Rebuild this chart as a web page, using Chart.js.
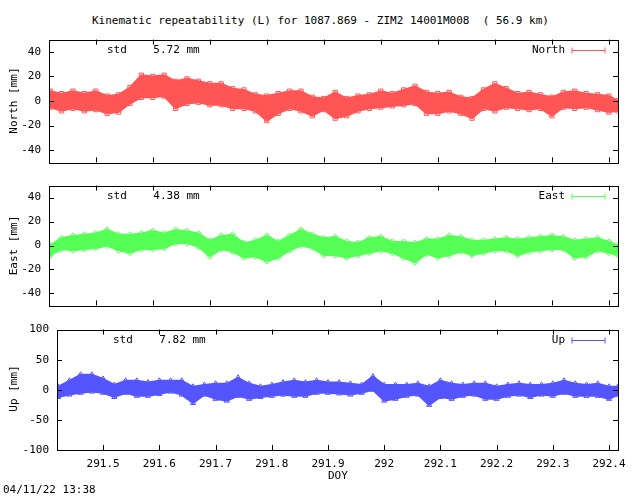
<!DOCTYPE html>
<html>
<head>
<meta charset="utf-8">
<script src="https://cdn.jsdelivr.net/npm/chart.js@4/dist/chart.umd.min.js"></script>
<style>
  body { margin: 0; background: #fff; width: 640px; height: 496px; position: relative; overflow: hidden;
         font-family: "DejaVu Sans Mono", monospace; font-size: 11px; color: #000; }
  canvas { position: absolute; left: 0; }
  .txt { position: absolute; white-space: pre; }
  .rot { position: absolute; transform: rotate(-90deg); transform-origin: center; white-space: pre; }
</style>
</head>
<body>
<div class="txt" style="left:92px;top:14px;">Kinematic repeatability (L) for 1087.869 - ZIM2 14001M008  ( 56.9 km)</div>
<canvas id="cNorth" width="640" height="152" style="top:25px"></canvas>
<canvas id="cEast" width="640" height="149" style="top:171px"></canvas>
<canvas id="cUp" width="640" height="165" style="top:315px"></canvas>
<div class="rot" style="left:-22px;top:94px;width:70px;text-align:center">North [mm]</div>
<div class="rot" style="left:-22px;top:239px;width:70px;text-align:center">East [mm]</div>
<div class="rot" style="left:-22px;top:382px;width:70px;text-align:center">Up [mm]</div>
<div class="txt" style="left:328px;top:469px;">DOY</div>
<div class="txt" style="left:3px;top:483px;">04/11/22 13:38</div>
<script>
// sample epochs (DOY) for the envelope
const doy = [291.418, 291.42, 291.44, 291.46, 291.48, 291.50, 291.52, 291.54, 291.56, 291.58, 291.60,
  291.62, 291.64, 291.66, 291.68, 291.70, 291.72, 291.74, 291.76, 291.78, 291.80,
  291.82, 291.84, 291.86, 291.88, 291.90, 291.92, 291.94, 291.96, 291.98, 292.00,
  292.02, 292.04, 292.06, 292.08, 292.10, 292.12, 292.14, 292.16, 292.18, 292.20,
  292.22, 292.24, 292.26, 292.28, 292.30, 292.32, 292.34, 292.36, 292.38, 292.40, 292.416];

const northHi = [2, 8, 6, 8, 6, 8, 4, 5, 11, 21, 20, 21, 16, 18, 16, 14, 14, 10, 9, 5, 4,
  6, 8, 8, 3, 2, 7, 2, 4, 5, 8, 6, 9, 12, 7, 6, 7, 3, 2, 9, 14,
  10, 6, 7, 5, 3, 7, 8, 6, 5, 4, 0];
const northLo = [-4, -5, -8, -6, -8, -7, -10, -9, -2, 3, 3, 4, -6, -2, -1, -3, -3, -6, -6, -8, -16,
  -10, -6, -8, -12, -7, -14, -12, -8, -6, -5, -4, -3, -2, -10, -10, -8, -10, -14, -6, -8,
  -5, -6, -7, -6, -12, -5, -6, -5, -7, -9, -8];

const eastHi = [-2, 0, 6, 8, 9, 10, 13, 9, 9, 10, 12, 10, 13, 12, 10, 4, 8, 9, 2, 4, 8,
  3, 8, 13, 9, 6, 7, 3, 2, 6, 7, 3, 3, 2, 5, 5, 8, 7, 4, 4, 5,
  6, 5, 6, 7, 8, 7, 4, 5, 6, 3, 0];
const eastLo = [-9, -8, -3, -4, -3, -2, 0, -4, -6, -3, -3, -2, 2, 2, -1, -9, -3, -5, -10, -9, -13,
  -10, -4, 0, -2, -8, -8, -10, -8, -6, -4, -6, -10, -14, -7, -10, -8, -5, -8, -6, -4,
  -4, -8, -5, -4, -3, -3, -10, -9, -4, -6, -8];

const upHi = [0, 5, 15, 25, 25, 18, 8, 15, 15, 12, 15, 15, 15, 5, 8, 10, 10, 20, 10, 5, 8,
  12, 15, 12, 15, 12, 12, 10, 8, 22, 8, 8, 8, 10, 5, 15, 10, 8, 10, 10, 5,
  8, 10, 8, 8, 10, 15, 10, 8, 10, 5, 5];
const upLo = [-10, -12, -8, -5, -3, -5, -12, -5, -10, -10, -7, -3, -8, -22, -8, -15, -18, -10, -15, -12, -10,
  -8, -10, -10, -5, -5, -6, -8, -5, 0, -18, -15, -10, -8, -25, -12, -15, -10, -8, -15, -15,
  -10, -8, -12, -8, -10, -5, -10, -10, -10, -15, -8];

const xMin = 291.418;
const xMax = 292.416;
const xTicks = [291.5, 291.6, 291.7, 291.8, 291.9, 292, 292.1, 292.2, 292.3, 292.4];
const neTicks = [-40, -20, 0, 20, 40];
const upTicks = [-100, -50, 0, 50, 100];

const inwardTicks = {
  id: "inwardTicks",
  afterDraw(chart) {
    const { ctx, chartArea: a, scales } = chart;
    ctx.save();
    ctx.strokeStyle = "#000";
    ctx.lineWidth = 1;
    ctx.beginPath();
    xTicks.forEach((t) => {
      const px = Math.round(scales.x.getPixelForValue(t)) + 0.5;
      ctx.moveTo(px, a.top); ctx.lineTo(px, a.top + 5);
      ctx.moveTo(px, a.bottom); ctx.lineTo(px, a.bottom - 5);
    });
    scales.y.ticks.forEach((t) => {
      const py = Math.round(scales.y.getPixelForValue(t.value)) + 0.5;
      ctx.moveTo(a.left, py); ctx.lineTo(a.left + 5, py);
      ctx.moveTo(a.right, py); ctx.lineTo(a.right - 5, py);
    });
    ctx.stroke();
    ctx.strokeRect(Math.round(a.left) + 0.5, Math.round(a.top) + 0.5, Math.round(a.width), Math.round(a.height));
    // std text and legend
    const o = chart.options.plugins.inwardTicks;
    ctx.fillStyle = "#000";
    ctx.font = "11px 'DejaVu Sans Mono', monospace";
    ctx.textBaseline = "middle";
    ctx.fillText(o.std, o.stdX, a.top + 11);
    ctx.textAlign = "right";
    ctx.fillText(o.name, 565, a.top + 11);
    ctx.strokeStyle = o.color;
    ctx.beginPath();
    const ly = Math.round(a.top + 10) + 0.5;
    ctx.moveTo(572, ly); ctx.lineTo(605, ly);
    ctx.moveTo(572, ly - 3); ctx.lineTo(572, ly + 3);
    ctx.moveTo(605, ly - 3); ctx.lineTo(605, ly + 3);
    ctx.stroke();
    ctx.restore();
  },
};

function makePanel(id, hi, lo, opts) {
  const pts = (arr) => doy.map((d, i) => ({ x: d, y: arr[i] }));
  const marker = {
    borderColor: opts.color,
    backgroundColor: "rgba(0,0,0,0)",
    pointStyle: opts.style,
    pointRadius: 3,
    pointBorderWidth: 1,
    borderWidth: 0,
    showLine: false,
  };
  return new Chart(document.getElementById(id), {
    type: "line",
    data: {
      datasets: [
        { data: pts(hi), borderColor: opts.color, backgroundColor: opts.color, borderWidth: 2,
          pointRadius: 0, fill: "+1", tension: 0 },
        { data: pts(lo), borderColor: opts.color, backgroundColor: opts.color, borderWidth: 2,
          pointRadius: 0, fill: false, tension: 0 },
        Object.assign({ data: pts(hi) }, marker),
        Object.assign({ data: pts(lo) }, marker),
      ],
    },
    options: {
      responsive: false,
      animation: false,
      events: [],
      layout: { padding: { top: opts.padTop, right: 22, bottom: opts.padBottom, left: 0 } },
      plugins: {
        legend: { display: false },
        tooltip: { enabled: false },
        inwardTicks: opts.label,
      },
      scales: {
        x: {
          type: "linear",
          min: xMin,
          max: xMax,
          afterBuildTicks(scale) { scale.ticks = xTicks.map((v) => ({ value: v })); },
          grid: { display: false, drawTicks: false },
          border: { display: false },
          ticks: {
            display: opts.showX,
            color: "#000",
            padding: 8,
            maxRotation: 0,
            autoSkip: false,
            font: { family: "DejaVu Sans Mono", size: 11 },
            callback: (v) => String(+v.toFixed(1)),
          },
          afterFit(scale) { scale.height = opts.showX ? 22 : 0; },
        },
        y: {
          min: opts.min,
          max: opts.max,
          afterBuildTicks(scale) { scale.ticks = opts.ticks.map((v) => ({ value: v })); },
          ticks: { color: "#000", padding: 8,
                   font: { family: "DejaVu Sans Mono", size: 11 } },
          grid: { display: false, drawTicks: false },
          border: { display: false },
          afterFit(scale) { scale.width = opts.left; },
        },
      },
    },
    plugins: [inwardTicks],
  });
}

makePanel("cNorth", northHi, northLo, {
  color: "#ff5555", style: "rect", min: -50, max: 50, ticks: neTicks, left: 49,
  padTop: 10, padBottom: 10, showX: false,
  label: { std: "std    5.72 mm", stdX: 107, name: "North", color: "#ff5555" },
});
makePanel("cEast", eastHi, eastLo, {
  color: "#55ff55", style: "rectRot", min: -50, max: 50, ticks: neTicks, left: 49,
  padTop: 10, padBottom: 10, showX: false,
  label: { std: "std    4.38 mm", stdX: 107, name: "East", color: "#55ff55" },
});
makePanel("cUp", upHi, upLo, {
  color: "#5555ff", style: "triangle", min: -100, max: 100, ticks: upTicks, left: 57,
  padTop: 10, padBottom: 8, showX: true,
  label: { std: "std    7.82 mm", stdX: 113, name: "Up", color: "#5555ff" },
});
</script>
</body>
</html>
